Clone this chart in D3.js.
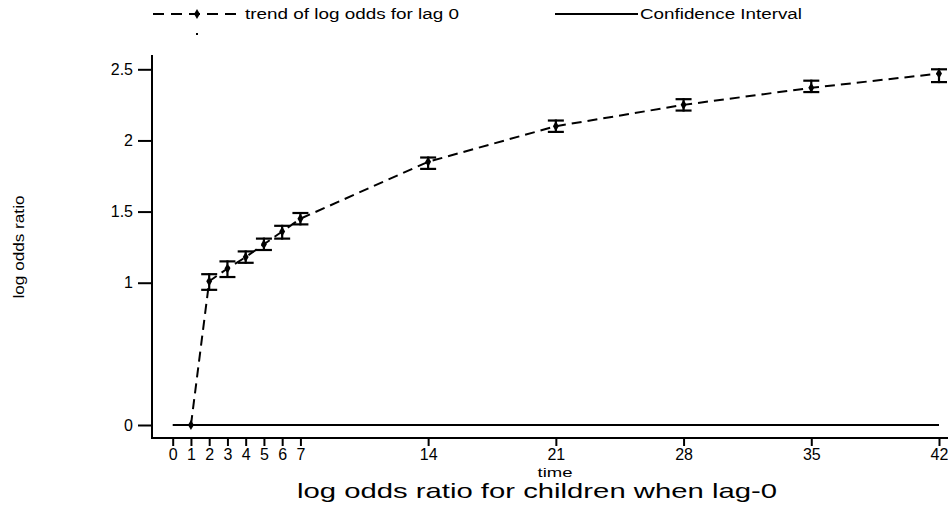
<!DOCTYPE html>
<html>
<head>
<meta charset="utf-8">
<script src="https://cdn.jsdelivr.net/npm/d3@7"></script>
<style>
  html, body { margin: 0; padding: 0; background: #fff; }
  svg { display: block; font-family: "Liberation Sans", Arial, sans-serif; }
</style>
</head>
<body>
<svg id="chart" width="948" height="510"></svg>
<script>
// ---- data ----
const times    = [1, 2, 3, 4, 5, 6, 7, 14, 21, 28, 35, 42];
const estimate = [0, 1.01, 1.10, 1.18, 1.27, 1.36, 1.45, 1.85, 2.10, 2.25, 2.37, 2.47];
const lowerCI  = [null, 0.95, 1.04, 1.14, 1.23, 1.31, 1.41, 1.80, 2.06, 2.21, 2.34, 2.41];
const upperCI  = [null, 1.06, 1.15, 1.22, 1.31, 1.40, 1.49, 1.88, 2.14, 2.29, 2.42, 2.50];
const zeroLineTimes = [0, 42];
const zeroLineValues = [0, 0];
const xTicks = [0, 1, 2, 3, 4, 5, 6, 7, 14, 21, 28, 35, 42];
const yTicks = [0, 1, 1.5, 2, 2.5];
const seriesLabels = ["trend of log odds for lag 0", "Confidence Interval"];
const xTitle = "time";
const yTitle = "log odds ratio";
const chartTitle = "log odds ratio for children when lag-0";

const svg = d3.select("#chart");
const x = d3.scaleLinear().domain([0, 42]).range([172.7, 939]);
const y = d3.scaleLinear().domain([0, 2.5]).range([425, 69.3]);

const pts = times.map((t, i) => ({t, v: estimate[i], lo: lowerCI[i], hi: upperCI[i]}));

// axes
const yAxis = svg.append("g").attr("transform", "translate(152,0)")
  .call(d3.axisLeft(y).tickValues(yTicks).tickSize(14).tickPadding(5)
    .tickFormat(d => d3.format("")(d)));
const xAxis = svg.append("g").attr("transform", "translate(0,438)")
  .call(d3.axisBottom(x).tickValues(xTicks).tickSize(8).tickPadding(2));
[yAxis, xAxis].forEach(g => {
  g.select(".domain").remove();
  g.selectAll(".tick line").attr("stroke", "#000").attr("stroke-width", 2);
  g.selectAll(".tick text").attr("fill", "#000").attr("font-size", 16)
    .attr("font-family", "Liberation Sans, Arial, sans-serif");
});
xAxis.selectAll(".tick text").attr("dy", "0.72em");
// axis lines
svg.append("line").attr("x1", 152).attr("x2", 152).attr("y1", 55).attr("y2", 439)
  .attr("stroke", "#000").attr("stroke-width", 2);
svg.append("line").attr("x1", 151).attr("x2", 948).attr("y1", 438).attr("y2", 438)
  .attr("stroke", "#000").attr("stroke-width", 2);

// zero line (solid)
const zeroData = zeroLineTimes.map((t, i) => [t, zeroLineValues[i]]);
svg.append("path").datum(zeroData)
  .attr("d", d3.line().x(d => x(d[0])).y(d => y(d[1])))
  .attr("fill", "none").attr("stroke", "#000").attr("stroke-width", 2);

// dashed trend line
svg.append("path").datum(pts)
  .attr("d", d3.line().x(d => x(d.t)).y(d => y(d.v)))
  .attr("fill", "none").attr("stroke", "#000").attr("stroke-width", 2)
  .attr("stroke-dasharray", "10,6");

// error bars
const eb = svg.append("g").attr("stroke", "#000").attr("stroke-width", 2.2);
pts.filter(d => d.lo != null).forEach(d => {
  const cx = x(d.t);
  eb.append("line").attr("x1", cx).attr("x2", cx).attr("y1", y(d.lo) + 1).attr("y2", y(d.hi) - 1);
  eb.append("line").attr("x1", cx - 8).attr("x2", cx + 8).attr("y1", y(d.lo)).attr("y2", y(d.lo));
  eb.append("line").attr("x1", cx - 8).attr("x2", cx + 8).attr("y1", y(d.hi)).attr("y2", y(d.hi));
});

// markers
const diamond = d3.symbol().type(d3.symbolDiamond).size(30);
svg.append("g").selectAll("path").data(pts).join("path")
  .attr("transform", d => `translate(${x(d.t)},${y(d.v)})`)
  .attr("d", diamond).attr("fill", "#000");

// titles
svg.append("text").attr("x", 555).attr("y", 477).attr("text-anchor", "middle")
  .attr("font-size", 13).attr("textLength", 35).attr("lengthAdjust", "spacingAndGlyphs")
  .text(xTitle);
svg.append("text").attr("x", 537).attr("y", 498).attr("text-anchor", "middle")
  .attr("font-size", 21).attr("textLength", 480).attr("lengthAdjust", "spacingAndGlyphs")
  .text(chartTitle);
svg.append("text").attr("transform", "translate(24,247) rotate(-90)")
  .attr("text-anchor", "middle").attr("font-size", 14)
  .attr("textLength", 103).attr("lengthAdjust", "spacingAndGlyphs")
  .text(yTitle);

// legend
const lg = svg.append("g");
lg.append("line").attr("x1", 153).attr("x2", 238).attr("y1", 14).attr("y2", 14)
  .attr("stroke", "#000").attr("stroke-width", 2).attr("stroke-dasharray", "11,7");
lg.append("path").attr("transform", "translate(197,14)").attr("d", diamond).attr("fill", "#000");
lg.append("rect").attr("x", 196).attr("y", 33).attr("width", 2).attr("height", 2).attr("fill", "#000");
lg.append("text").attr("x", 245).attr("y", 19).attr("font-size", 14)
  .attr("textLength", 214).attr("lengthAdjust", "spacingAndGlyphs").text(seriesLabels[0]);
lg.append("line").attr("x1", 555).attr("x2", 638).attr("y1", 14).attr("y2", 14)
  .attr("stroke", "#000").attr("stroke-width", 2);
lg.append("text").attr("x", 640).attr("y", 19).attr("font-size", 14)
  .attr("textLength", 162).attr("lengthAdjust", "spacingAndGlyphs").text(seriesLabels[1]);
</script>
</body>
</html>
